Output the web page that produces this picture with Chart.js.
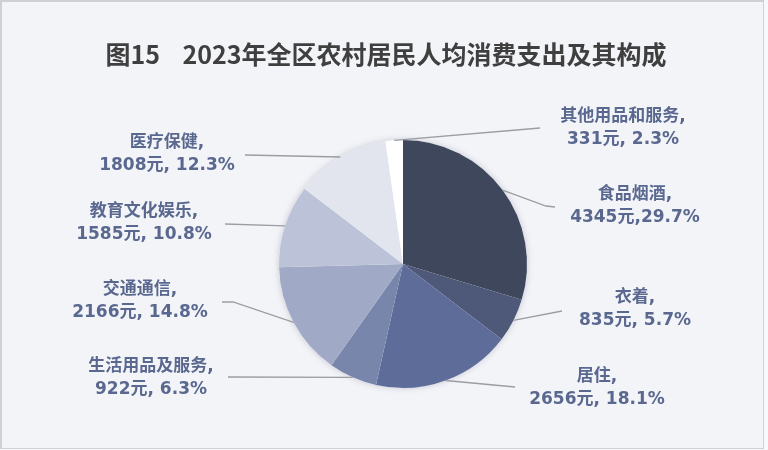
<!DOCTYPE html>
<html>
<head>
<meta charset="utf-8">
<script src="https://cdn.jsdelivr.net/npm/chart.js@4"></script>
<style>
  html, body { margin: 0; padding: 0; background: #f7f8fb; }
  .frame {
    position: relative;
    width: 761px;
    height: 446px;
    background: #f3f4f8;
    border: 1px solid #cfd0d4;
    border-width: 2px 1px 1px 2px;
  }
  canvas { position: absolute; left: -2px; top: -2px; }
</style>
</head>
<body>
<div class="frame"><canvas id="pie" width="768" height="450"></canvas></div>
<script>
const categories = ["食品烟酒", "衣着", "居住", "生活用品及服务", "交通通信", "教育文化娱乐", "医疗保健", "其他用品和服务"];
const amounts = [4345, 835, 2656, 922, 2166, 1585, 1808, 331];
const shares = ["29.7", "5.7", "18.1", "6.3", "14.8", "10.8", "12.3", "2.3"];
const sliceColors = ["#3e475b", "#4e5878", "#5e6c99", "#7886ab", "#a0a9c5", "#bcc2d8", "#e2e5ee", "#ffffff"];

// where each label sits (text centre, first line y) and where its leader line ends
const labelSpots = [
  { x: 635, y: 195, end: [555, 207], elbow: [546, 206] },
  { x: 635, y: 298, end: [562, 311] },
  { x: 597, y: 377, end: [515, 387] },
  { x: 151, y: 367, end: [228, 377] },
  { x: 140, y: 290, end: [222, 302], elbow: [233, 302] },
  { x: 144, y: 212, end: [225, 224] },
  { x: 167, y: 143, end: [245, 155] },
  { x: 623, y: 117, end: [540, 128] },
];

const textFont = 'bold 17px "DejaVu Sans", "Noto Sans CJK SC", sans-serif';

const pieDecor = {
  id: "pieDecor",
  beforeDatasetsDraw(chart) {
    const ctx = chart.ctx;
    const arc = chart.getDatasetMeta(0).data[0];
    const { x, y, outerRadius } = arc.getProps(["x", "y", "outerRadius"], true);
    ctx.save();
    ctx.shadowColor = "rgba(60,70,100,0.25)";
    ctx.shadowBlur = 6;
    ctx.fillStyle = "#ffffff";
    ctx.beginPath();
    ctx.arc(x, y, outerRadius, 0, Math.PI * 2);
    ctx.fill();
    ctx.restore();
  },
  afterDatasetsDraw(chart) {
    const ctx = chart.ctx;
    ctx.save();
    // title
    ctx.fillStyle = "#3f3f3f";
    ctx.font = 'bold 25px "Noto Sans CJK SC", sans-serif';
    ctx.textAlign = "center";
    ctx.textBaseline = "middle";
    ctx.fillText("图15    2023年全区农村居民人均消费支出及其构成", 386, 54);

    chart.getDatasetMeta(0).data.forEach((arc, i) => {
      const p = arc.getProps(["x", "y", "startAngle", "endAngle", "outerRadius"], true);
      const mid = (p.startAngle + p.endAngle) / 2;
      const sx = p.x + Math.cos(mid) * p.outerRadius;
      const sy = p.y + Math.sin(mid) * p.outerRadius;
      const spot = labelSpots[i];

      ctx.strokeStyle = "#9b9da3";
      ctx.lineWidth = 1.3;
      ctx.beginPath();
      ctx.moveTo(sx, sy);
      if (spot.elbow) ctx.lineTo(spot.elbow[0], spot.elbow[1]);
      ctx.lineTo(spot.end[0], spot.end[1]);
      ctx.stroke();

      const sep = i === 0 ? "," : ", ";
      ctx.fillStyle = "#5a6890";
      ctx.font = textFont;
      ctx.fillText(categories[i] + ",", spot.x, spot.y);
      ctx.fillText(amounts[i] + "元" + sep + shares[i] + "%", spot.x, spot.y + 23);
    });
    ctx.restore();
  },
};

new Chart(document.getElementById("pie"), {
  type: "pie",
  data: {
    labels: categories,
    datasets: [
      {
        data: amounts,
        backgroundColor: sliceColors,
        borderWidth: 0,
      },
    ],
  },
  options: {
    responsive: false,
    animation: false,
    layout: { padding: { top: 140, bottom: 62, left: 200, right: 162 } },
    plugins: {
      legend: { display: false },
      tooltip: { enabled: false },
    },
  },
  plugins: [pieDecor],
});
</script>
</body>
</html>
